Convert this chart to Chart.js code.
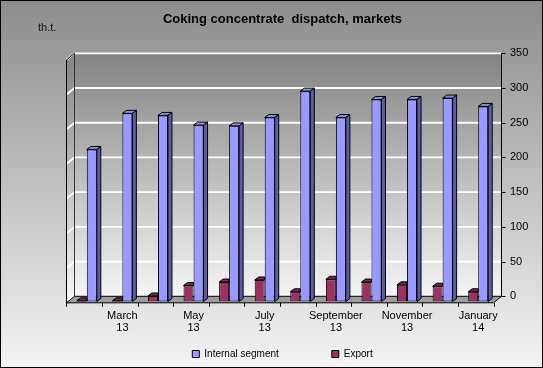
<!DOCTYPE html>
<html><head><meta charset="utf-8">
<script src="https://cdn.jsdelivr.net/npm/chart.js@4"></script>
<style>html,body{margin:0;padding:0;background:#fff;}canvas{display:block;}</style>
</head><body>
<canvas id="c" width="543" height="368"></canvas>
<script>
const categories = ['February 13','March 13','April 13','May 13','June 13','July 13','August 13','September 13','October 13','November 13','December 13','January 14'];
const tickLabels = ['', ['March','13'], '', ['May','13'], '', ['July','13'], '', ['September','13'], '', ['November','13'], '', ['January','14']];
const internalSegment = [219, 271, 268, 254, 253, 265, 303, 265, 291, 291, 293, 281];
const exportValues = [1, 1, 8, 23, 28, 31, 14, 32, 28, 24, 22, 14];
const seriesNames = ['Export', 'Internal segment'];
const yMin = 0, yMax = 350, yStep = 50;
const titleText = 'Coking concentrate  dispatch, markets';
const unitText = 'th.t.';

const FONT = '"Liberation Sans", Arial, sans-serif';
Chart.defaults.font.family = FONT;
Chart.defaults.color = '#000';

// 3D geometry offsets relative to the bar plane
const OX = 5.5, OY = -5.2;   // back wall
const FX = -2.5, FY = 1.3;   // floor front edge
const BX = 4, BY = 3;        // bar depth
const LEGEND_PAD = 53;

function poly(ctx, pts, fill, stroke) {
  ctx.beginPath();
  ctx.moveTo(pts[0][0], pts[0][1]);
  for (let i = 1; i < pts.length; i++) ctx.lineTo(pts[i][0], pts[i][1]);
  ctx.closePath();
  if (fill) { ctx.fillStyle = fill; ctx.fill(); }
  if (stroke) { ctx.strokeStyle = stroke; ctx.stroke(); }
}

const threeD = {
  id: 'threeD',
  beforeLayout(chart) {
    const lg = chart.legend;
    if (lg && !lg._fixedFit) {
      const f = lg.fit;
      lg.fit = function () { f.call(this); this.height = 30; };
      lg._fixedFit = true;
    }
  },
  afterLayout(chart) {
    const lg = chart.legend;
    if (lg) { lg.top = 354 - LEGEND_PAD - 5; lg.bottom = chart.height; lg.height = lg.bottom - lg.top; }
  },
  beforeDraw(chart) {
    const {ctx, width, height} = chart;
    ctx.save();
    const g = ctx.createLinearGradient(0, 0, 0, height);
    g.addColorStop(0, '#8c8c8c');
    g.addColorStop(1, '#f4f4f4');
    ctx.fillStyle = g;
    ctx.fillRect(0, 0, width, height);
    ctx.restore();
  },
  beforeDatasetsDraw(chart) {
    const {ctx, chartArea: a, scales} = chart;
    const ys = scales.y, xs = scales.x;
    const L = a.left, R = a.right, T = a.top, B = a.bottom;
    ctx.save();
    ctx.lineWidth = 1;
    // back wall
    const g = ctx.createLinearGradient(0, T + OY, 0, B + OY);
    g.addColorStop(0, '#838383');
    g.addColorStop(1, '#f5f5f5');
    ctx.fillStyle = g;
    ctx.fillRect(L + OX, T + OY, R - L, B - T);
    // left wall
    poly(ctx, [[L + OX, T + OY], [L + FX, T + FY], [L + FX, B + FY], [L + OX, B + OY]], g, null);
    // gridlines
    ctx.strokeStyle = '#ffffff';
    ctx.lineWidth = 1.8;
    for (let v = yMin + yStep; v <= yMax; v += yStep) {
      const py = ys.getPixelForValue(v) + OY;
      ctx.beginPath();
      ctx.moveTo(L + FX, py + (FY - OY));
      ctx.lineTo(L + OX, py);
      ctx.lineTo(R + OX, py);
      ctx.stroke();
    }
    ctx.lineWidth = 1;
    // floor
    poly(ctx, [[L + OX, B + OY], [R + OX, B + OY], [R + FX, B + FY], [L + FX, B + FY]], '#9e9e9e', '#000');
    // left wall edges
    ctx.strokeStyle = '#000';
    ctx.beginPath();
    ctx.moveTo(L + FX, B + FY);
    ctx.lineTo(L + FX, T + FY);
    ctx.lineTo(L + OX, T + OY);
    ctx.stroke();
    ctx.strokeStyle = '#333';
    ctx.beginPath();
    ctx.moveTo(L + OX, T + OY);
    ctx.lineTo(L + OX, B + OY);
    ctx.stroke();
    // right value axis line and ticks
    ctx.strokeStyle = '#000';
    ctx.beginPath();
    ctx.moveTo(R + OX, T + OY);
    ctx.lineTo(R + OX, B + OY);
    for (let v = yMin; v <= yMax; v += yStep) {
      const py = Math.round(ys.getPixelForValue(v) + OY) + 0.5;
      ctx.moveTo(R + OX, py);
      ctx.lineTo(R + OX + 4, py);
    }
    ctx.stroke();
    // category ticks under the floor front edge
    const n = categories.length;
    const cw = (R - L) / n;
    ctx.beginPath();
    for (let i = 0; i <= n; i++) {
      const px = Math.round((i < n ? xs.getPixelForValue(i) - cw / 2 : R) + FX) + 0.5;
      ctx.moveTo(px, B + FY);
      ctx.lineTo(px, B + FY + 4);
    }
    ctx.stroke();
    ctx.restore();
  },
  afterDatasetsDraw(chart) {
    const ctx = chart.ctx;
    ctx.save();
    ctx.lineWidth = 1;
    const metaE = chart.getDatasetMeta(0);
    const metaI = chart.getDatasetMeta(1);
    metaE.data.forEach(bar => {
      const {x, y, width} = bar.getProps(['x', 'y', 'width'], true);
      const l = x - width / 2, r = x + width / 2;
      poly(ctx, [[l, y], [l + BX, y - BY], [r, y - BY], [r, y]], '#7d2853', '#000');
    });
    metaI.data.forEach(bar => {
      const {x, y, base, width} = bar.getProps(['x', 'y', 'base', 'width'], true);
      const l = x - width / 2, r = x + width / 2;
      poly(ctx, [[l, y], [l + BX, y - BY], [r + BX, y - BY], [r, y]], '#8a8ae8', '#000');
      poly(ctx, [[r, y], [r + BX, y - BY], [r + BX, base - BY], [r, base]], '#5c5ca8', '#000');
    });
    ctx.restore();
  },
  afterDraw(chart) {
    const {ctx, width, height} = chart;
    ctx.save();
    ctx.fillStyle = '#111';
    ctx.font = '11px ' + FONT;
    ctx.textBaseline = 'middle';
    ctx.textAlign = 'left';
    ctx.fillText(unitText, 38, 28);
    ctx.strokeStyle = '#000';
    ctx.lineWidth = 1;
    ctx.strokeRect(0.5, 0.5, width - 1, height - 1);
    ctx.restore();
  }
};

new Chart(document.getElementById('c'), {
  type: 'bar',
  data: {
    labels: categories,
    datasets: [
      { label: seriesNames[0], data: exportValues, backgroundColor: '#993366', borderColor: '#000', borderWidth: 1, borderSkipped: false },
      { label: seriesNames[1], data: internalSegment, backgroundColor: '#9999FF', borderColor: '#000', borderWidth: 1, borderSkipped: false }
    ]
  },
  options: {
    responsive: false,
    animation: false,
    devicePixelRatio: 1,
    datasets: { bar: { barPercentage: 1, categoryPercentage: 0.562 } },
    layout: { padding: { left: 69, right: 7, top: 0, bottom: 0.5 } },
    plugins: {
      title: { display: true, fullSize: false, text: titleText, color: '#000', font: { size: 13, weight: 'bold', lineHeight: 1.2 }, padding: { top: 11.2, bottom: 31.7 } },
      legend: {
        position: 'bottom', reverse: true, fullSize: false,
        labels: { boxWidth: 7, boxHeight: 7, padding: LEGEND_PAD, color: '#000', font: { size: 10 } }
      },
      tooltip: { enabled: false }
    },
    scales: {
      x: {
        grid: { display: false, drawTicks: false },
        border: { display: false },
        ticks: {
          autoSkip: false, maxRotation: 0, minRotation: 0, padding: 8,
          font: { size: 11, lineHeight: 1.1 }, color: '#000',
          callback: (v, i) => tickLabels[i]
        },
        afterFit: s => { s.height = 36; }
      },
      y: {
        position: 'right', min: yMin, max: yMax,
        grid: { display: false, drawTicks: false },
        border: { display: false },
        ticks: { stepSize: yStep, padding: 14, labelOffset: OY, font: { size: 11 }, color: '#000' },
        afterFit: s => { s.width = 40; }
      }
    }
  },
  plugins: [threeD]
});
</script>
</body></html>
